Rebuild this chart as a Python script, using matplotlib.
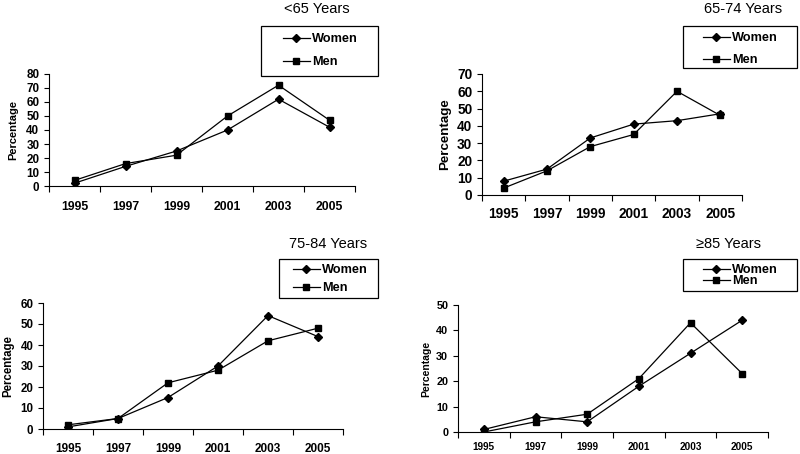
import matplotlib
matplotlib.use('Agg')
import matplotlib.pyplot as plt
from matplotlib.patches import Rectangle

plt.rcParams['font.family'] = ['Liberation Sans', 'DejaVu Sans']

years = ['1995', '1997', '1999', '2001', '2003', '2005']

titles = ['<65 Years', '65-74 Years', '75-84 Years', '\u226585 Years']

women_u65 = [2, 14, 25, 40, 62, 42]
men_u65 = [4, 16, 22, 50, 72, 47]
women_65_74 = [8, 15, 33, 41, 43, 47]
men_65_74 = [4, 14, 28, 35, 60, 46]
women_75_84 = [1, 5, 15, 30, 54, 44]
men_75_84 = [2, 5, 22, 28, 42, 48]
women_85 = [1, 6, 4, 18, 31, 44]
men_85 = [0, 4, 7, 21, 43, 23]

W, H = 800, 454
fig = plt.figure(figsize=(8, 4.54), dpi=100)


def rect(x0, y0, x1, y1):
    # pixel box (top-left origin) -> figure fraction
    return [x0 / W, 1 - y1 / H, (x1 - x0) / W, (y1 - y0) / H]


# layout of each panel in pixels
panels = [
    dict(ax=(49, 74, 355, 186), ymax=80, fs=8.8, yfs=8.4, yl=8.0, ylx=13, pad=10.5, title=(317, 9),
         leg=(261, 26, 378, 76), rows=(39, 62), hx=283, w=women_u65, m=men_u65),
    dict(ax=(482, 74, 742, 195), ymax=70, fs=9.8, yfs=9.8, yl=9.6, ylx=445, pad=9, title=(743, 9),
         leg=(683, 26, 797, 68), rows=(38, 60), hx=703, w=women_65_74, m=men_65_74),
    dict(ax=(43, 303, 343, 429), ymax=60, fs=8.5, yfs=8.3, yl=8.3, ylx=8, pad=10, title=(328, 244),
         leg=(279, 259, 378, 298), rows=(270, 288), hx=293, w=women_75_84, m=men_75_84),
    dict(ax=(458, 305, 768, 432), ymax=50, fs=7.2, yfs=7.8, yl=7.5, ylx=426, pad=7, title=(728, 244),
         leg=(683, 259, 797, 291), rows=(270, 281), hx=703, w=women_85, m=men_85),
]

for i, p in enumerate(panels):
    ax = fig.add_axes(rect(*p['ax']))
    x = list(range(len(years)))
    lw, = ax.plot(x, p['w'], color='black', lw=0.9, marker='D', ms=4.0, label='Women')
    lm, = ax.plot(x, p['m'], color='black', lw=0.9, marker='s', ms=4.3, label='Men')
    ax.set_xlim(-0.5, len(years) - 0.5)
    ax.set_ylim(0, p['ymax'])
    ax.set_yticks(range(0, p['ymax'] + 1, 10))
    ax.set_xticks([k - 0.5 for k in range(len(years) + 1)])
    ax.set_xticklabels([])
    ax.set_xticks(x, minor=True)
    ax.set_xticklabels(years, minor=True)
    ax.tick_params(axis='x', which='major', length=4, width=0.8, direction='out')
    ax.tick_params(axis='x', which='minor', length=0, pad=p['pad'], labelsize=p['fs'])
    ax.tick_params(axis='y', length=3.5, width=0.8, labelsize=p['yfs'], pad=3.5)
    for lab in ax.get_xticklabels(minor=True) + ax.get_yticklabels():
        lab.set_fontweight('bold')
    for s in ['top', 'right']:
        ax.spines[s].set_visible(False)
    for s in ['left', 'bottom']:
        ax.spines[s].set_linewidth(0.8)
    ax.set_ylabel('Percentage', fontsize=p['yl'], fontweight='bold', va='center')
    # keep label vertically centred on the axes
    ax.yaxis.set_label_coords(p['ylx'] / W, 1 - (p['ax'][1] + p['ax'][3]) / 2 / H,
                              transform=fig.transFigure)

    tx, ty = p['title']
    fig.text(tx / W, 1 - ty / H, titles[i], ha='center', va='center', fontsize=10.5)

    lx0, ly0, lx1, ly1 = p['leg']
    fig.patches.append(Rectangle((lx0 / W, 1 - ly1 / H), (lx1 - lx0) / W, (ly1 - ly0) / H,
                                 transform=fig.transFigure, fill=False, ec='black', lw=0.9))
    r0, r1 = p['rows']
    for h, lab, r in [(lw, 'Women', r0), (lm, 'Men', r1)]:
        fig.legend([h], [lab], loc='center left',
                   bbox_to_anchor=(p['hx'] / W, 1 - r / H), bbox_transform=fig.transFigure,
                   frameon=False, borderpad=0, borderaxespad=0, handlelength=2.1,
                   handletextpad=0.2, prop={'weight': 'bold', 'size': 9.2})

fig.savefig('out.png', dpi=100)
